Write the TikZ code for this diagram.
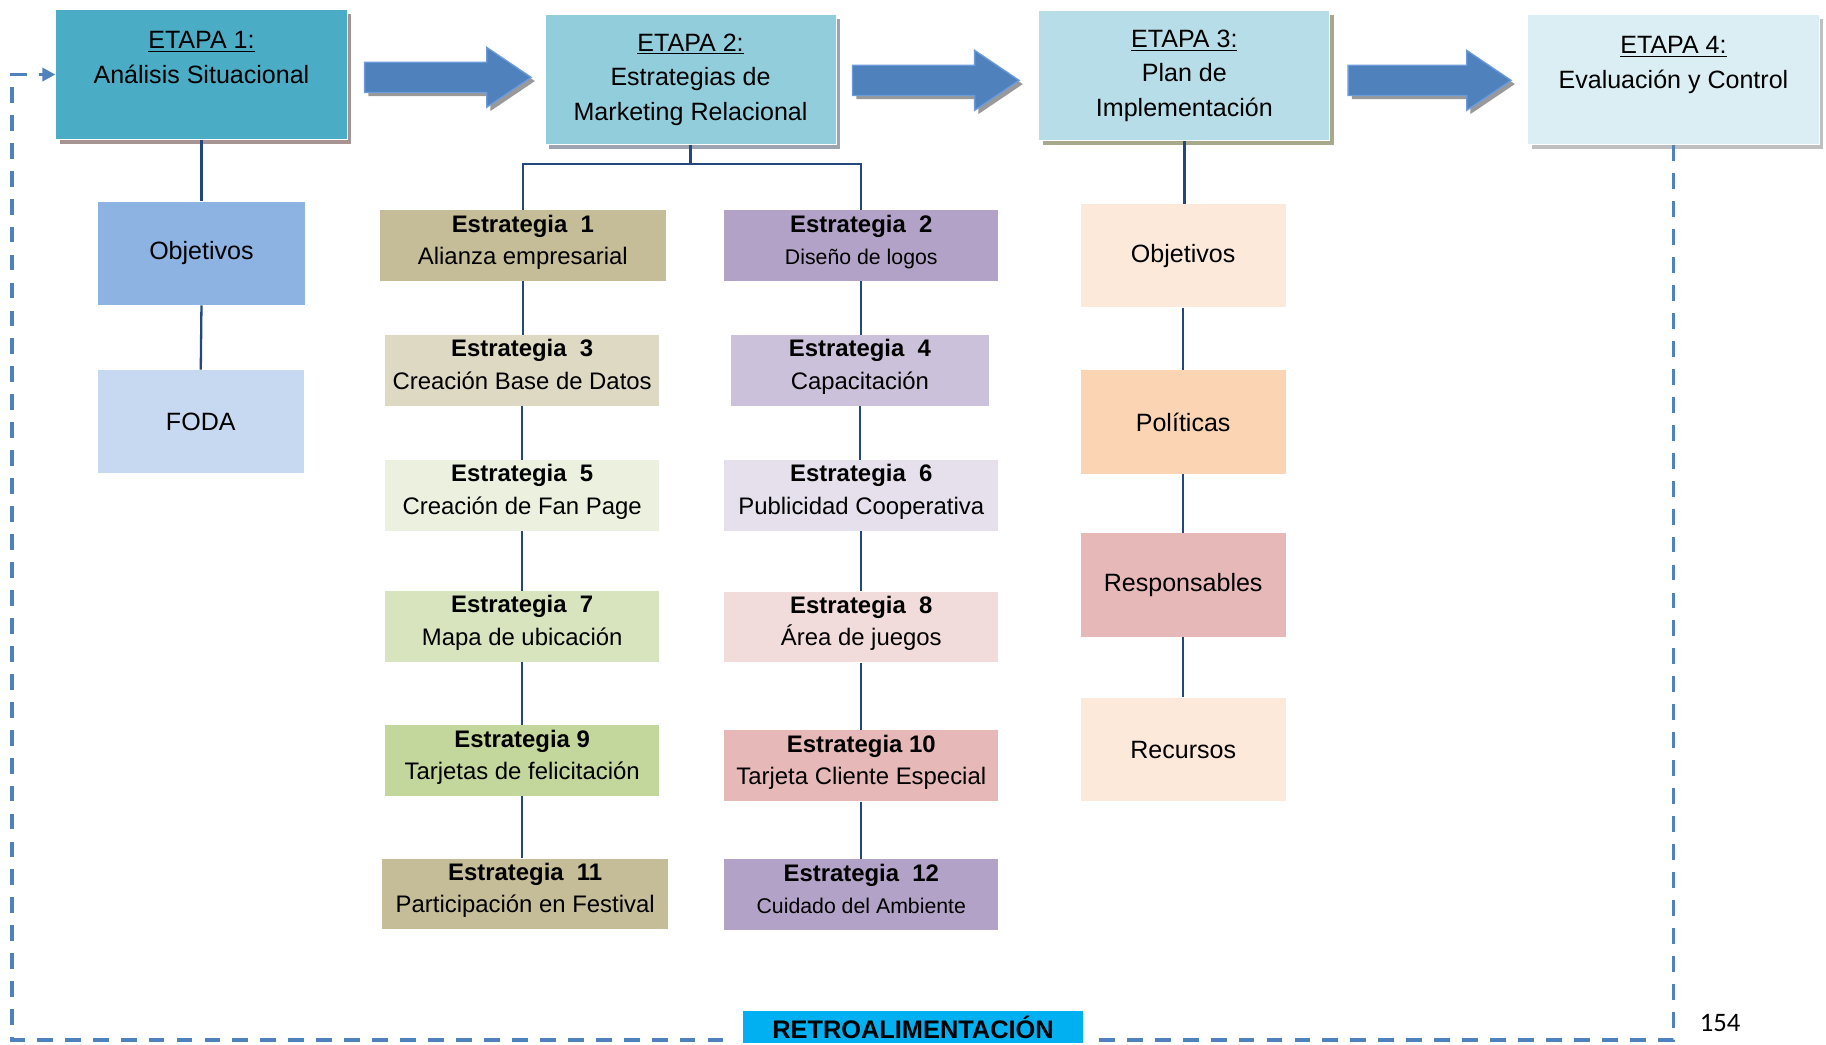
\documentclass[tikz,border=0pt]{standalone}
\usepackage{fontspec}
\setmainfont{Liberation Sans}
\newfontfamily\numfont{Carlito}
\usetikzlibrary{arrows.meta, positioning, shapes.arrows, shadows}

\definecolor{aqua1}{HTML}{4BACC6}
\definecolor{aqua2}{HTML}{92CDDC}
\definecolor{aqua3}{HTML}{B7DEE8}
\definecolor{aqua4}{HTML}{DAEEF3}
\definecolor{sombra1}{HTML}{A89393}
\definecolor{sombra2}{HTML}{9EA3B0}
\definecolor{sombra3}{HTML}{A7A98A}
\definecolor{sombra4}{HTML}{BFBFBF}
\definecolor{azul}{HTML}{4F81BD}
\definecolor{azulborde}{HTML}{6B9BDB}
\definecolor{linea}{HTML}{24477F}
\definecolor{arena}{HTML}{C4BD97}
\definecolor{arena2}{HTML}{DDD9C3}
\definecolor{verde1}{HTML}{EBF1DE}
\definecolor{verde2}{HTML}{D7E4BD}
\definecolor{verde3}{HTML}{C3D69B}
\definecolor{lila}{HTML}{B2A2C7}
\definecolor{lila2}{HTML}{CCC1DA}
\definecolor{lila3}{HTML}{E5E0EC}
\definecolor{rosa1}{HTML}{F2DCDB}
\definecolor{rosa2}{HTML}{E6B9B8}
\definecolor{durazno1}{HTML}{FDE9D9}
\definecolor{durazno2}{HTML}{FBD4B4}
\definecolor{celeste1}{HTML}{8DB3E2}
\definecolor{celeste2}{HTML}{C6D9F1}
\definecolor{cian}{HTML}{00B0F0}

\begin{document}
\begin{tikzpicture}[
  font=\fontsize{15.3}{21}\selectfont,
  etapa/.style={rectangle, draw=white, line width=0.6pt, minimum width=6.25cm,
    minimum height=2.8cm, align=center, inner sep=0pt},
  sombra/.style={drop shadow={shadow xshift=0.09cm, shadow yshift=-0.09cm,
    fill=#1, opacity=1}},
  caja/.style={rectangle, minimum width=4.4cm, minimum height=2.22cm, align=center},
  estr/.style={rectangle, minimum width=5.875cm, minimum height=1.52cm,
    align=center, inner sep=0pt, text depth=0.26cm,
    font=\fontsize{14.6}{19.9}\selectfont},
  flecha/.style={single arrow, single arrow head extend=0.32cm,
    single arrow tip angle=68, minimum width=1.25cm, minimum height=3.575cm,
    inner xsep=0pt, inner ysep=0.31cm, fill=azul, draw=azulborde, line width=0.8pt,
    drop shadow={shadow xshift=0.08cm, shadow yshift=-0.08cm, fill=black!40, opacity=1}},
  con/.style={draw=linea, line width=1.4pt},
  retro/.style={draw=azul, line width=2.4pt, dash pattern=on 0.34cm off 0.26cm,
    -{Triangle[length=2.8mm, width=2.8mm]}}
]
\useasboundingbox (0,0) rectangle (39.2,-22.425);

% etapas
\node[etapa, fill=aqua1, sombra=sombra1] (eta1) at (4.325,-1.6)
  {\underline{ETAPA 1:}\\Análisis Situacional\\~};
\node[etapa, fill=aqua2, sombra=sombra2] (eta2) at (14.825,-1.71)
  {\underline{ETAPA 2:}\\Estrategias de\\Marketing Relacional};
\node[etapa, fill=aqua3, sombra=sombra3] (eta3) at (25.425,-1.625)
  {\underline{ETAPA 3:}\\Plan de\\Implementación};
\node[etapa, fill=aqua4, sombra=sombra4] (eta4) at (35.925,-1.71)
  {\underline{ETAPA 4:}\\Evaluación y Control\\~};

\node[flecha] (f12) at (9.375,-1.66) {};
\node[flecha] (f23) at (19.85,-1.725) {};
\node[flecha, minimum height=3.5cm] (f34) at (30.45,-1.725) {};

% etapa 1
\node[caja, fill=celeste1, minimum width=4.45cm] (obj1) at (4.325,-5.44) {Objetivos};
\node[caja, fill=celeste2, minimum width=4.42cm] (foda) at (4.31,-9.05) {FODA};
\draw[con] (eta1.south) -- (obj1.north);
\draw[con] (obj1.south) -- (foda.north);

% etapa 2
\node[estr, fill=arena, minimum width=6.15cm] (es1) at (11.225,-5.275)
  {\textbf{Estrategia~~1}\\Alianza empresarial};
\node[estr, fill=lila] (es2) at (18.49,-5.275)
  {\textbf{Estrategia~~2}\\{\fontsize{13}{19.9}\selectfont Diseño de logos}};
\node[estr, fill=arena2] (es3) at (11.21,-7.95)
  {\textbf{Estrategia~~3}\\Creación Base de Datos};
\node[estr, fill=lila2, minimum width=5.525cm] (es4) at (18.46,-7.95)
  {\textbf{Estrategia~~4}\\Capacitación};
\node[estr, fill=verde1] (es5) at (11.21,-10.64)
  {\textbf{Estrategia~~5}\\Creación de Fan Page};
\node[estr, fill=lila3] (es6) at (18.49,-10.64)
  {\textbf{Estrategia~~6}\\Publicidad Cooperativa};
\node[estr, fill=verde2] (es7) at (11.21,-13.45)
  {\textbf{Estrategia~~7}\\Mapa de ubicación};
\node[estr, fill=rosa1] (es8) at (18.49,-13.46)
  {\textbf{Estrategia~~8}\\Área de juegos};
\node[estr, fill=verde3] (es9) at (11.21,-16.33)
  {\textbf{Estrategia 9}\\Tarjetas de felicitación};
\node[estr, fill=rosa2] (es10) at (18.49,-16.44)
  {\textbf{Estrategia 10}\\Tarjeta Cliente Especial};
\node[estr, fill=arena, minimum width=6.15cm] (es11) at (11.275,-19.19)
  {\textbf{Estrategia~~11}\\Participación en Festival};
\node[estr, fill=lila] (es12) at (18.49,-19.21)
  {\textbf{Estrategia~~12}\\{\fontsize{13}{19.9}\selectfont Cuidado del Ambiente}};

\draw[con] (eta2.south) -- ++(0,-0.4) -| (es1.north);
\draw[con] (eta2.south) -- ++(0,-0.4) -| (es2.north);
\draw[con] (es1.south) -- (es1.south |- es3.north);
\draw[con] (es3.south) -- (es3.south |- es5.north);
\draw[con] (es5.south) -- (es5.south |- es7.north);
\draw[con] (es7.south) -- (es7.south |- es9.north);
\draw[con] (es9.south) -- (es9.south |- es11.north);
\draw[con] (es2.south) -- (es2.south |- es4.north);
\draw[con] (es4.south) -- (es4.south |- es6.north);
\draw[con] (es6.south) -- (es6.south |- es8.north);
\draw[con] (es8.south) -- (es8.south |- es10.north);
\draw[con] (es10.south) -- (es10.south |- es12.north);

% etapa 3
\node[caja, fill=durazno1] (obj3) at (25.4,-5.49) {Objetivos};
\node[caja, fill=durazno2] (pol) at (25.4,-9.06) {Políticas};
\node[caja, fill=rosa2] (resp) at (25.4,-12.56) {Responsables};
\node[caja, fill=durazno1] (rec) at (25.4,-16.09) {Recursos};
\draw[con] (eta3.south) -- (eta3.south |- obj3.north);
\draw[con] (obj3.south) -- (pol.north);
\draw[con] (pol.south) -- (resp.north);
\draw[con] (resp.south) -- (rec.north);

% retroalimentacion
\coordinate (fbL) at (0.25,-22.325);
\draw[retro] (eta4.south) -- (eta4.south |- fbL) -- (fbL) |- (eta1.west);
\node[fill=cian, draw=white, line width=6pt, minimum width=7.3cm+6pt,
  minimum height=0.7cm+6pt, inner sep=0pt,
  font=\bfseries\fontsize{15.5}{18}\selectfont] (retro) at (19.6,-22.05)
  {RETROALIMENTACIÓN};
\node[font=\numfont\fontsize{16.3}{18}\selectfont, anchor=base, inner sep=0pt]
  (pag) at (36.925,-22.15) {154};
\end{tikzpicture}
\end{document}
